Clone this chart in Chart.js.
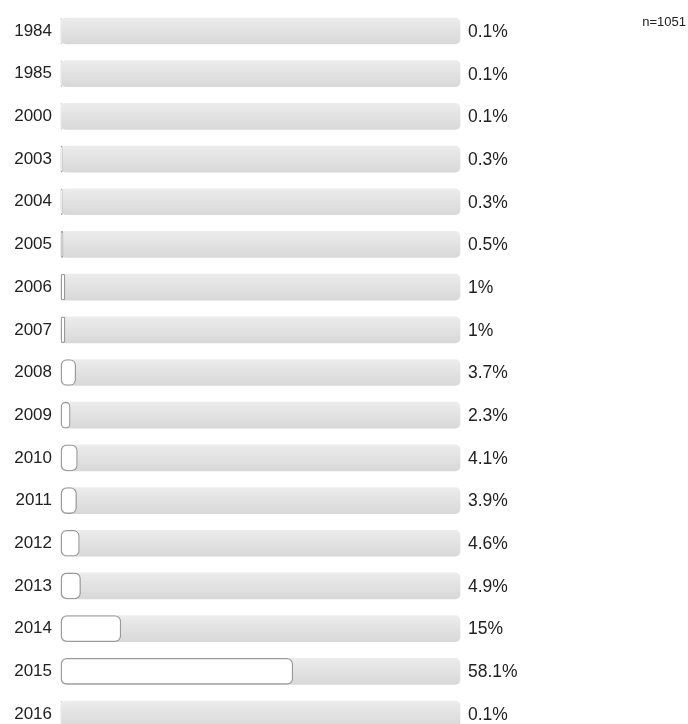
<!DOCTYPE html>
<html>
<head>
<meta charset="utf-8">
<script src="https://cdn.jsdelivr.net/npm/chart.js@4"></script>
<style>
  html, body { margin: 0; padding: 0; background: #fff; }
  #wrap { width: 688px; height: 724px; position: relative; }
</style>
</head>
<body>
<div id="wrap"><canvas id="chart"></canvas></div>
<script>
// years and share of answers (%)
const years = ['1984', '1985', '2000', '2003', '2004', '2005', '2006', '2007', '2008',
  '2009', '2010', '2011', '2012', '2013', '2014', '2015', '2016'];
const shares = [0.1, 0.1, 0.1, 0.3, 0.3, 0.5, 1, 1, 3.7, 2.3, 4.1, 3.9, 4.6, 4.9, 15, 58.1, 0.1];
const shareLabels = ['0.1%', '0.1%', '0.1%', '0.3%', '0.3%', '0.5%', '1%', '1%', '3.7%',
  '2.3%', '4.1%', '3.9%', '4.6%', '4.9%', '15%', '58.1%', '0.1%'];
const total = 'n=1051';
const track = years.map(() => 100);

// grey gradient for the background track of each row
function trackColor(c) {
  const y = c.chart.scales.y;
  if (!y || c.dataIndex === undefined) return '#e2e2e2';
  const py = y.getPixelForValue(c.dataIndex);
  if (!isFinite(py)) return '#e2e2e2';
  const g = c.chart.ctx.createLinearGradient(0, py - 13, 0, py + 13);
  g.addColorStop(0, '#ececec');
  g.addColorStop(1, '#d8d8d8');
  return g;
}

// percent text right of the track, and n= in the corner
const textPlugin = {
  id: 'texts',
  afterDatasetsDraw(chart) {
    const ctx = chart.ctx;
    const area = chart.chartArea;
    const y = chart.scales.y;
    ctx.save();
    ctx.fillStyle = '#222';
    ctx.font = '17.5px "Liberation Sans", Arial, sans-serif';
    ctx.textAlign = 'left';
    ctx.textBaseline = 'middle';
    shareLabels.forEach((t, i) => {
      ctx.fillText(t, area.right + 8, y.getPixelForValue(i) + 1);
    });
    ctx.font = '13px "Liberation Sans", Arial, sans-serif';
    ctx.textAlign = 'right';
    ctx.fillText(total, 686, 22);
    ctx.restore();
  }
};

new Chart(document.getElementById('chart'), {
  type: 'bar',
  data: {
    labels: years,
    datasets: [
      {
        data: shares,
        backgroundColor: '#ffffff',
        borderColor: '#9a9a9a',
        borderWidth: 1.3,
        borderSkipped: false,
        borderRadius: 6,
        barThickness: 26,
        grouped: false,
        clip: false
      },
      {
        data: track,
        backgroundColor: trackColor,
        borderWidth: 0,
        borderSkipped: false,
        borderRadius: 5,
        barThickness: 26,
        grouped: false,
        clip: false
      }
    ]
  },
  options: {
    indexAxis: 'y',
    responsive: true,
    maintainAspectRatio: false,
    animation: false,
    layout: { padding: { top: 31, bottom: 10, right: 228, left: 0 } },
    scales: {
      x: { min: 0, max: 100, display: false },
      y: {
        offset: false,
        grid: { display: false, drawTicks: false },
        border: { display: false },
        afterFit: s => { s.width = 61; s.paddingTop = 0; s.paddingBottom = 0; },
        ticks: {
          padding: 9,
          color: '#222',
          font: { size: 17, family: '"Liberation Sans", Arial, sans-serif' }
        }
      }
    },
    plugins: {
      legend: { display: false },
      tooltip: { enabled: false }
    }
  },
  plugins: [textPlugin]
});
</script>
</body>
</html>
